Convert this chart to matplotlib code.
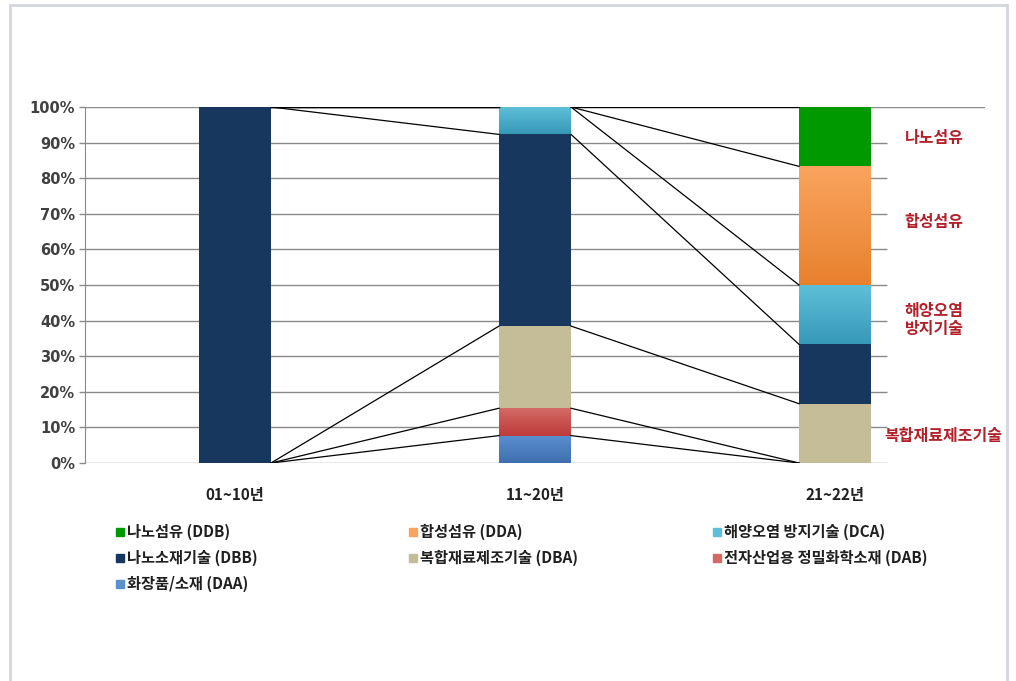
import numpy as np
import matplotlib
matplotlib.use("Agg")
import matplotlib.pyplot as plt
from matplotlib.patches import Rectangle
from matplotlib.colors import LinearSegmentedColormap

plt.rcParams['font.family'] = ['Noto Sans CJK KR', 'DejaVu Sans']

# 기간
periods = ['01~10년', '11~20년', '21~22년']

# 시리즈 (아래에서 위로 쌓는 순서), 기간별 건수
series_codes = ['DAA', 'DAB', 'DBA', 'DBB', 'DCA', 'DDA', 'DDB']
series_names = ['화장품/소재', '전자산업용 정밀화학소재', '복합재료제조기술', '나노소재기술',
                '해양오염 방지기술', '합성섬유', '나노섬유']
counts_DAA = [0, 1, 0]
counts_DAB = [0, 1, 0]
counts_DBA = [0, 3, 1]
counts_DBB = [1, 7, 1]
counts_DCA = [0, 1, 1]
counts_DDA = [0, 0, 2]
counts_DDB = [0, 0, 1]
counts = np.array([counts_DAA, counts_DAB, counts_DBA, counts_DBB,
                   counts_DCA, counts_DDA, counts_DDB], dtype=float)

# 색 (위쪽, 아래쪽) - 그라데이션
colors = {
    'DAA': ('#5a8fd0', '#3f6fae'),
    'DAB': ('#d36a66', '#be3b38'),
    'DBA': ('#c4bd97', '#c4bd97'),
    'DBB': ('#17375e', '#17375e'),
    'DCA': ('#5ec0d8', '#3799b8'),
    'DDA': ('#f9a45e', '#e8812e'),
    'DDB': ('#009a00', '#009a00'),
}

# 오른쪽 주석
side_labels = ['나노섬유', '합성섬유', '해양오염\n방지기술', '복합재료제조기술']
side_label_y = [91.3, 67.7, 40.2, 7.6]
side_label_x = [2.33, 2.33, 2.33, 2.36]

# 범례 순서 (행 우선)
legend_order = ['DDB', 'DDA', 'DCA', 'DBB', 'DBA', 'DAB', 'DAA']

pct = counts / counts.sum(axis=0) * 100
tops = np.cumsum(pct, axis=0)
bottoms = tops - pct

fig = plt.figure(figsize=(10.16, 6.81), dpi=100)
W, H = 1016, 681
ax = fig.add_axes([85 / W, (H - 463) / H, 900 / W, 356 / H])

x = np.arange(len(periods))
bw = 0.24

# 격자선
grid_end = (887 - 85) / 300 - 0.5
for v in range(0, 100, 10):
    ax.hlines(v, -0.5, grid_end, color='#8a8a8a', lw=1, zorder=0)
ax.hlines(100, -0.5, 2.5, color='#8a8a8a', lw=1, zorder=0)

# 막대
for k, code in enumerate(series_codes):
    top_c, bot_c = colors[code]
    bars = ax.bar(x, pct[k], bw, bottom=bottoms[k], color=top_c, linewidth=0, zorder=2)
    if top_c != bot_c:
        cmap = LinearSegmentedColormap.from_list(code, [bot_c, top_c])
        grad = np.linspace(0, 1, 64).reshape(-1, 1)
        for j, b in enumerate(bars):
            if pct[k, j] <= 0:
                continue
            im = ax.imshow(grad, cmap=cmap, origin='lower', aspect='auto',
                           extent=[x[j] - bw / 2, x[j] + bw / 2, bottoms[k, j], tops[k, j]],
                           zorder=2.5)
            im.set_clip_path(b)

# 계열선
for i in range(len(periods) - 1):
    for k in range(len(series_codes)):
        ax.plot([x[i] + bw / 2, x[i + 1] - bw / 2], [tops[k, i], tops[k, i + 1]],
                color='black', lw=0.9, zorder=3)

ax.set_xlim(-0.5, 2.5)
ax.set_ylim(0, 100)
ax.set_yticks(range(0, 101, 10))
ax.set_yticklabels([f'{v}%' for v in range(0, 101, 10)], fontsize=10.5,
                   fontweight='bold', color='#404040', family=['DejaVu Sans'])
ax.set_xticks(x)
ax.set_xticklabels(periods, fontsize=11, fontweight='bold', color='#202020')
ax.tick_params(axis='x', length=0, pad=17)
ax.tick_params(axis='y', length=4, width=1, color='#8a8a8a', pad=3)
for s in ['top', 'right', 'bottom']:
    ax.spines[s].set_visible(False)
ax.spines['left'].set_color('#8a8a8a')
ax.spines['left'].set_zorder(4)

for lab, lx, ly in zip(side_labels, side_label_x, side_label_y):
    ax.text(lx, ly, lab, color='#b2202a', fontsize=11.5, fontweight='bold',
            ha='center', va='center', linespacing=1.1, zorder=5)

# 범례
col_x = [116, 409, 713]
row_y = [532, 558, 584]
for n, code in enumerate(legend_order):
    r, c = divmod(n, 3)
    px, py = col_x[c], row_y[r]
    k = series_codes.index(code)
    fig.patches.append(Rectangle((px / W, (H - py - 4) / H), 8 / W, 8 / H,
                                 transform=fig.transFigure, color=colors[code][0]))
    fig.text((px + 11) / W, (H - py) / H, f'{series_names[k]} ({code})',
             fontsize=11, fontweight='bold', color='#202020', va='center', ha='left')

# 바깥 테두리
fig.patches.append(Rectangle((10 / W, -0.02), 997 / W, (H - 5) / H + 0.02,
                             transform=fig.transFigure, fill=False,
                             edgecolor='#d3d7de', lw=2))

fig.savefig('out.png', dpi=100)
